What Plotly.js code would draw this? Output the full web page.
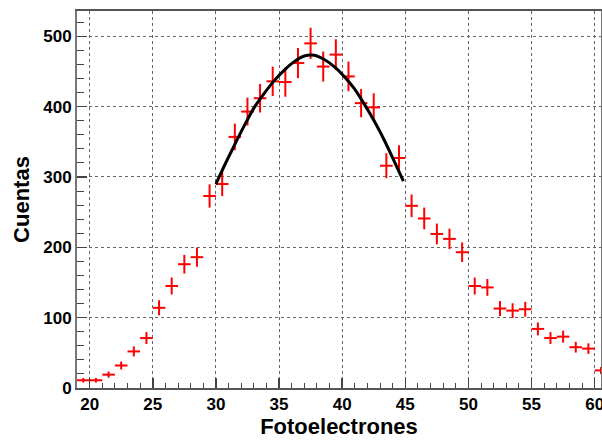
<!DOCTYPE html>
<html>
<head>
<meta charset="utf-8">
<script src="https://cdn.plot.ly/plotly-3.0.1.min.js"></script>
<style>html,body{margin:0;padding:0;background:#fff}#chart{width:602px;height:440px}</style>
</head>
<body>
<div id="chart"></div>
<script>
// Histogram bin centres (Fotoelectrones)
const binCenters = [19.5,20.5,21.5,22.5,23.5,24.5,25.5,26.5,27.5,28.5,29.5,30.5,31.5,32.5,33.5,34.5,35.5,36.5,37.5,38.5,39.5,40.5,41.5,42.5,43.5,44.5,45.5,46.5,47.5,48.5,49.5,50.5,51.5,52.5,53.5,54.5,55.5,56.5,57.5,58.5,59.5,60.5];
// Counts (Cuentas)
const counts = [11,11,19,32,52,71,114,145,176,186,273,290,357,393,412,436,435,462,490,457,474,443,405,399,316,327,259,241,219,212,193,145,143,113,110,112,84,71,73,58,56,25];
// Fit curve
const fitX = [30.0,30.67,31.46,32.25,33.04,33.83,34.62,35.42,36.2,37.0,37.8,38.58,39.37,40.16,40.95,41.74,42.53,43.32,44.11,44.85];
const fitY = [290,316,345,373,399,419,437,452,464,472,473,467,457,443,426,404,380,353,323,294];

const errY = counts.map(v => Math.sqrt(v));

const data = [
  {
    x: binCenters, y: counts, type: 'scatter', mode: 'markers',
    marker: {size: 1, color: 'rgba(255,0,0,0)'},
    error_x: {type: 'constant', value: 0.5, color: '#ff0000', thickness: 2, width: 0},
    error_y: {type: 'data', array: errY, visible: true, color: '#ff0000', thickness: 2, width: 0},
    showlegend: false, hoverinfo: 'x+y'
  },
  {
    x: fitX, y: fitY, type: 'scatter', mode: 'lines',
    line: {color: '#000000', width: 3, shape: 'spline', smoothing: 0.6},
    showlegend: false
  }
];

const tickFont = {family: 'Liberation Sans, Arial, sans-serif', size: 17, color: '#000', weight: 'bold'};
const titleFont = {family: 'Liberation Sans, Arial, sans-serif', size: 22, color: '#000', weight: 'bold'};

const layout = {
  width: 602, height: 440,
  margin: {l: 77, r: 1, t: 11, b: 52, pad: 0},
  paper_bgcolor: '#fff', plot_bgcolor: '#fff',
  xaxis: {
    range: [19, 60.5], tickmode: 'linear', tick0: 20, dtick: 5,
    ticks: 'inside', ticklen: 10, tickwidth: 1.5, tickcolor: '#444',
    minor: {dtick: 1, tick0: 20, ticks: 'inside', ticklen: 5, tickwidth: 1, tickcolor: '#444', showgrid: false},
    showgrid: true, gridcolor: '#666', griddash: 'dot', gridwidth: 1,
    showline: true, linecolor: '#555', linewidth: 2, mirror: true,
    zeroline: false, tickfont: tickFont, ticklabeloverflow: 'allow',
    title: {text: 'Fotoelectrones', font: titleFont, standoff: 4}
  },
  yaxis: {
    range: [0, 536], tickmode: 'linear', tick0: 0, dtick: 100,
    ticks: 'inside', ticklen: 10, tickwidth: 1.5, tickcolor: '#444',
    minor: {dtick: 20, tick0: 0, ticks: 'inside', ticklen: 7, tickwidth: 1, tickcolor: '#444', showgrid: false},
    showgrid: true, gridcolor: '#666', griddash: 'dot', gridwidth: 1,
    showline: true, linecolor: '#777', linewidth: 2, mirror: true,
    zeroline: false, tickfont: tickFont,
    title: {text: 'Cuentas', font: titleFont, standoff: 8}
  }
};

Plotly.newPlot('chart', data, layout, {displayModeBar: false, staticPlot: true});
</script>
</body>
</html>
